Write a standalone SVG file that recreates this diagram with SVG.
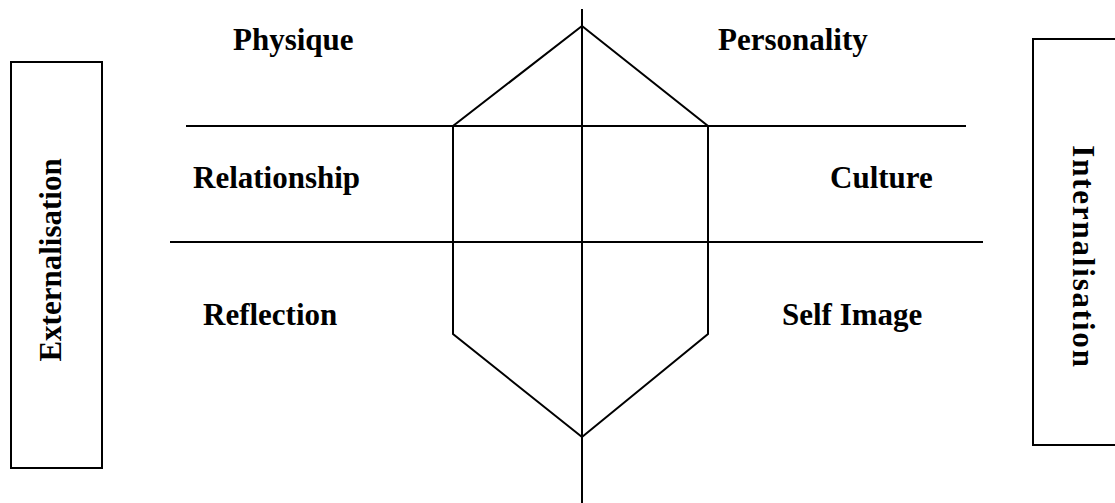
<svg xmlns="http://www.w3.org/2000/svg" width="1115" height="503" viewBox="0 0 1115 503">
<style>
.ln{stroke:#000;stroke-width:2;fill:none}
.lb{font-family:"Liberation Serif","Times New Roman",serif;font-weight:bold;font-size:31px;fill:#000}
</style>
<rect width="1115" height="503" fill="#fff"/>
<g id="connectors">
<line class="ln" x1="186" y1="126" x2="966" y2="126"/>
<line class="ln" x1="170" y1="242" x2="983" y2="242"/>
<line class="ln" x1="582" y1="9" x2="582" y2="503"/>
</g>
<g id="hexagon">
<polygon class="ln" points="582,26 708,126 708,334 582,437 453,334 453,126"/>
</g>
<g id="externalisation">
<rect class="ln" x="11" y="62" width="91" height="406"/>
<text class="lb" text-anchor="middle" transform="translate(61,260) rotate(-90)">Externalisation</text>
</g>
<g id="internalisation">
<rect class="ln" x="1033" y="39" width="100" height="406"/>
<text class="lb" text-anchor="middle" letter-spacing="1.8" transform="translate(1073,257) rotate(90)">Internalisation</text>
</g>
<g id="physique"><text class="lb" x="233" y="50">Physique</text></g>
<g id="personality"><text class="lb" x="718" y="50">Personality</text></g>
<g id="relationship"><text class="lb" x="193" y="188">Relationship</text></g>
<g id="culture"><text class="lb" x="830" y="188">Culture</text></g>
<g id="reflection"><text class="lb" x="203" y="325">Reflection</text></g>
<g id="selfimage"><text class="lb" x="782" y="325">Self Image</text></g>
</svg>
